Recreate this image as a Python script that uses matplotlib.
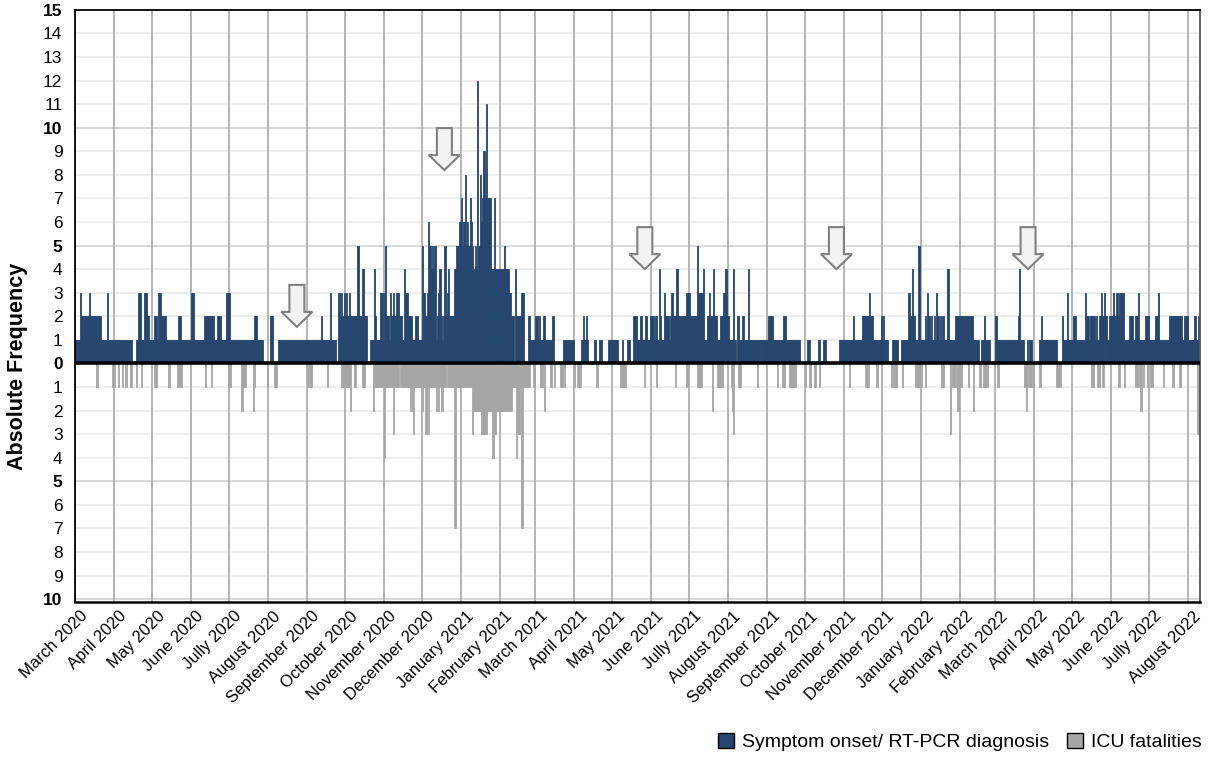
import pandas as pd
import matplotlib
matplotlib.use("Agg")
import matplotlib.pyplot as plt
import matplotlib.dates as mdates
import matplotlib.transforms as mtransforms
from matplotlib.patches import Patch, Polygon

plt.rcParams['font.family'] = ['Liberation Sans', 'DejaVu Sans']

# month labels as printed on the original axis (spelling kept)
month_labels = ["March 2020", "April 2020", "May 2020", "June 2020", "Jully 2020",
                "August 2020", "September 2020", "October 2020", "November 2020",
                "December 2020", "January 2021", "February 2021", "March 2021",
                "April 2021", "May 2021", "June 2021", "Jully 2021", "August 2021",
                "September 2021", "October 2021", "November 2021", "December 2021",
                "January 2022", "February 2022", "March 2022", "April 2022",
                "May 2022", "June 2022", "Jully 2022", "August 2022"]
first_day = "2020-03-01"

# daily symptom onset / RT-PCR diagnosis counts, one row per month
onset_2020 = [
    [1,1,1,1,3,2,2,2,2,2,2,3,2,2,2,2,2,2,2,2,2,1,1,1,1,3,1,1,1,1,1],
    [1,1,1,1,1,1,1,1,1,1,1,1,1,1,0,0,0,1,1,3,3,1,1,1,3,3,2,2,1,1],
    [1,1,2,2,1,3,3,2,2,2,2,1,1,1,1,1,1,1,1,1,1,2,2,1,1,1,1,1,1,1,1],
    [3,3,1,1,1,1,1,1,1,1,2,2,2,2,2,2,2,2,1,1,1,2,2,2,1,1,1,1,3,3],
    [3,1,1,1,1,1,1,1,1,1,1,1,1,1,1,1,1,1,1,1,2,2,1,1,1,1,1,0,0,0,0],
    [0,0,2,2,0,0,0,0,1,1,1,1,1,1,1,1,1,1,1,1,1,1,1,1,1,1,1,1,1,1,1],
    [1,1,1,1,1,1,1,1,1,1,1,2,1,1,1,1,1,1,3,1,1,1,1,0,0,3,2,3,2,3],
    [2,3,2,3,2,2,2,2,2,2,5,2,2,2,4,2,2,2,0,0,1,1,1,4,2,1,1,1,3,3,1],
    [3,5,2,2,1,3,2,3,2,2,3,3,2,2,1,1,4,3,3,2,2,2,1,1,1,2,2,1,1,1],
    [5,3,3,2,3,6,5,4,5,4,5,1,2,3,4,2,1,2,5,2,3,4,2,2,2,2,4,5,5,5,6],
]
onset_2021 = [
    [7,5,6,8,5,6,5,7,6,5,4,5,4,12,5,8,6,7,9,7,11,7,7,7,4,4,7,4,4,4,4],
    [4,4,4,5,4,4,4,3,3,2,2,0,4,2,2,2,2,3,3,0,0,0,2,2,1,1,1,1],
    [2,2,1,2,1,1,2,2,1,1,1,1,1,2,2,0,0,0,0,0,0,0,1,1,1,1,1,1,1,1,1],
    [0,0,0,0,0,1,1,2,1,2,1,0,0,0,0,0,1,0,0,0,1,1,0,0,0,0,0,1,1,1],
    [1,1,1,1,1,0,0,0,1,0,0,0,1,1,0,0,0,2,2,2,1,1,2,2,1,1,2,2,1,1,2],
    [2,2,1,2,2,1,4,2,1,1,3,2,2,2,1,2,3,2,2,2,4,2,2,2,2,2,2,2,3,3],
    [3,2,2,2,2,2,5,3,3,3,3,4,1,1,2,2,3,2,2,4,2,2,1,1,1,2,2,3,3,4,2],
    [2,1,1,1,4,1,0,2,2,1,1,2,2,1,1,1,4,1,1,1,1,1,1,1,1,1,1,1,1,1,1],
    [1,2,2,2,2,1,1,1,1,1,1,1,1,2,2,1,1,1,1,1,1,1,1,1,1,1,0,0,0,0],
    [0,0,1,1,0,0,0,0,0,0,1,1,0,0,1,1,1,0,0,0,0,0,0,0,0,0,0,1,1,1,1],
    [1,1,1,1,1,1,1,2,1,1,1,1,1,1,2,2,2,2,2,2,3,2,2,1,1,1,1,1,1,2],
    [1,2,1,1,1,0,0,0,1,1,1,1,1,0,0,1,1,1,1,1,1,3,2,2,4,2,1,1,1,5,1],
]
onset_2022 = [
    [1,1,1,2,1,3,2,1,2,1,2,1,3,2,1,2,1,2,1,1,1,4,1,1,1,1,1,2,2,2,2],
    [2,2,2,2,2,2,2,2,2,2,1,1,1,1,1,0,0,1,1,2,1,1,1,1,0,0,0,0],
    [2,1,1,1,1,1,1,1,1,1,1,1,1,1,1,1,1,1,2,4,1,1,1,0,0,1,0,1,1,0,0],
    [0,0,0,0,1,2,1,1,1,1,1,1,1,1,1,1,1,1,0,0,0,0,2,1,1,1,3,1,1,1],
    [1,2,2,1,1,1,1,1,1,1,3,2,2,1,2,2,2,2,1,2,1,2,2,3,2,3,2,2,1,2,2],
    [2,3,2,2,3,2,3,3,3,3,1,1,1,1,2,2,2,1,1,2,2,3,1,1,1,1,1,2,2,2],
    [1,1,1,1,1,2,2,3,1,1,1,1,1,1,1,1,2,2,2,2,2,2,2,2,2,2,1,1,2,2,2],
    [1,1,1,1,1,2,1,1,2],
]

# daily ICU fatalities, one row per month
icu_2020 = [
    [0,0,0,0,0,0,0,0,0,0,0,0,0,0,0,0,0,1,0,0,0,0,0,0,0,0,0,0,0,1,1],
    [1,0,0,1,0,0,1,0,0,1,0,0,0,1,0,0,0,1,0,0,0,1,0,0,0,0,0,0,0,0],
    [0,0,1,1,0,0,0,0,0,0,0,0,0,1,0,0,0,0,0,0,1,1,1,1,0,0,0,0,0,0,0],
    [0,0,0,0,0,0,0,0,0,0,0,1,0,0,0,0,1,0,0,0,0,0,0,0,0,0,0,0,0,1],
    [1,1,0,0,0,0,0,0,0,0,2,1,1,1,0,0,0,0,0,2,1,0,0,0,0,0,0,0,0,0,1],
    [0,0,0,0,0,1,1,0,0,0,0,0,0,0,0,0,0,0,0,0,0,0,0,0,0,0,0,0,0,0,0],
    [1,0,1,1,0,0,0,0,0,0,0,0,0,0,0,0,1,0,0,0,0,0,0,0,0,0,0,1,1,1],
    [1,1,1,1,2,0,0,1,1,0,0,0,0,0,1,1,0,0,0,0,0,0,2,1,1,1,1,1,1,1,1],
    [4,1,1,1,1,1,1,3,1,1,1,1,0,1,1,1,1,1,1,1,1,2,1,3,1,1,1,1,1,1],
    [2,1,1,3,1,3,1,1,1,1,1,2,1,2,1,2,2,1,1,0,1,1,1,1,1,1,7,1,1,1,1],
]
icu_2021 = [
    [1,1,1,1,1,1,1,1,1,3,2,2,2,2,2,2,3,3,3,3,3,2,2,2,2,4,3,3,2,2,2],
    [2,2,2,2,2,2,2,2,2,2,1,1,1,4,3,3,1,7,1,1,1,1,1,1,0,0,1,1],
    [0,0,0,0,1,1,0,2,0,0,0,0,1,0,0,1,0,0,0,0,1,1,0,1,0,0,0,0,0,0,0],
    [1,0,1,1,1,0,0,0,0,0,0,0,0,0,0,0,0,1,1,0,0,0,0,0,0,0,0,0,0,0],
    [0,0,0,0,0,0,1,1,1,1,1,0,0,0,0,0,0,0,0,0,0,0,0,0,0,1,0,0,0,0,0],
    [0,0,0,0,1,0,0,0,0,0,0,0,0,0,0,0,0,0,0,1,0,0,0,0,0,0,0,0,1,0],
    [0,0,0,0,0,0,1,1,1,1,0,0,0,0,0,0,0,0,2,0,0,0,1,1,1,1,1,0,0,0,0],
    [0,0,1,2,3,0,0,0,1,1,0,0,0,0,0,0,0,0,0,0,0,0,0,1,0,0,0,0,0,0,0],
    [0,0,0,0,0,0,0,0,1,0,0,0,1,1,0,0,0,1,1,1,1,1,1,0,0,0,0,0,0,0],
    [1,0,0,1,1,0,0,1,1,0,0,1,0,0,0,0,0,0,0,0,0,0,0,0,0,0,0,0,0,0,0],
    [0,0,0,0,1,0,0,0,0,0,0,0,0,0,0,0,0,1,1,1,0,0,0,0,0,1,1,0,0,0],
    [0,0,0,0,0,0,0,1,1,0,1,1,0,0,0,0,1,0,0,0,0,0,0,0,0,0,1,1,1,1,1],
]
icu_2022 = [
    [1,0,0,1,0,0,0,0,0,0,0,0,0,0,0,0,1,1,0,0,0,0,0,3,0,1,1,1,0,2,0],
    [1,1,0,0,0,0,1,0,0,0,2,0,0,0,0,1,1,0,1,1,1,1,0,0,0,0,0,0],
    [0,1,1,0,0,0,0,0,0,0,0,0,0,0,0,0,0,0,0,0,0,0,0,1,2,1,0,1,1,0,1],
    [0,0,0,0,1,0,0,0,0,0,0,0,0,0,0,0,0,1,1,1,1,0,0,0,0,0,0,0,0,0],
    [0,0,0,0,0,0,0,0,0,0,0,0,0,0,0,1,1,0,0,0,1,1,0,0,1,0,0,0,0,0,0],
    [0,0,0,0,0,1,1,0,0,0,1,0,0,0,0,0,0,0,0,1,1,0,1,2,0,1,0,0,1,0],
    [0,1,1,0,0,0,0,0,0,0,0,1,0,0,0,0,0,0,1,1,0,0,0,0,1,0,0,0,0,0,0],
    [0,0,0,0,0,0,0,3,3],
]

# arrows marking the start of each wave (date, count at arrow tip)
arrow_dates = ["2020-08-24", "2020-12-19", "2021-05-27", "2021-10-26", "2022-03-27"]
arrow_tips = [1.55, 8.2, 4.0, 4.0, 4.0]

onset_months = onset_2020 + onset_2021 + onset_2022
icu_months = icu_2020 + icu_2021 + icu_2022
month_starts = pd.date_range(first_day, periods=len(month_labels), freq="MS")

dates, onset, icu = [], [], []
for start, on, dead in zip(month_starts, onset_months, icu_months):
    if len(on) != len(dead):
        print("length mismatch", start.date(), len(on), len(dead))
    dates += list(pd.date_range(start, periods=len(on), freq="D"))
    onset += on
    icu += dead

blue = "#27466f"
grey = "#a6a6a6"

fig = plt.figure(figsize=(12.08, 7.58), dpi=100)
ax = fig.add_axes([75 / 1208, 1 - 601.5 / 758, 1124.5 / 1208, 591.7 / 758])

# same-colour edge so single-day spikes stay visible at ~1 px per day
ax.bar(dates, [-v for v in icu], width=1.0, align="edge", color=grey,
       edgecolor=grey, linewidth=0.6, zorder=2)
ax.bar(dates, onset, width=1.0, align="edge", color=blue, edgecolor=blue,
       linewidth=0.6, zorder=2)
ax.axhline(0, color="black", lw=2.6, zorder=4)

ax.set_xlim(pd.Timestamp(first_day), pd.Timestamp("2022-08-10"))
ax.set_ylim(-10.1, 15)

# horizontal grid
yt = list(range(-10, 16))
ax.set_yticks(yt)
ax.set_yticklabels([str(abs(v)) for v in yt])
for v in yt:
    if v == 0:
        continue
    c = "#d6d6d6" if v % 5 == 0 else "#ececec"
    ax.axhline(v, color=c, lw=1.3, zorder=0)
for lab, v in zip(ax.get_yticklabels(), yt):
    if v % 5 == 0:
        lab.set_fontweight("bold")
ax.tick_params(axis="y", length=0, pad=9, labelsize=12.5)

# month grid
ax.set_xticks(month_starts)
ax.set_xticklabels(month_labels, rotation=45, ha="right", va="top",
                   rotation_mode="anchor", fontsize=12)
ax.tick_params(axis="x", length=0, pad=5)
shift = mtransforms.ScaledTranslation(5 / 100, 0, fig.dpi_scale_trans)
for lab in ax.get_xticklabels():
    lab.set_transform(lab.get_transform() + shift)
ax.xaxis.grid(True, color="#a8a8a8", lw=1.2, zorder=1)
ax.set_axisbelow(True)

for side in ["left", "top"]:
    ax.spines[side].set_linewidth(1.3)
    ax.spines[side].set_color("black")
ax.spines["right"].set_linewidth(1.3)
ax.spines["right"].set_color("#555555")
ax.spines["bottom"].set_linewidth(1.8)

# block arrows, drawn in pixels around the tip position
shape = [(0, 0), (15.5, 15), (7.5, 15), (7.5, 42), (-7.5, 42), (-7.5, 15), (-15.5, 15)]
shape = [(px / 100, py / 100) for px, py in shape]
for d, tip in zip(arrow_dates, arrow_tips):
    x = mdates.date2num(pd.Timestamp(d))
    tr = fig.dpi_scale_trans + mtransforms.ScaledTranslation(x, tip, ax.transData)
    ax.add_patch(Polygon(shape, closed=True, transform=tr, facecolor="#f2f2f2",
                         edgecolor="#808080", lw=1.5, zorder=5, clip_on=False))

fig.text(18 / 1208, 1 - 366 / 758, "Absolute Frequency", rotation=90,
         ha="center", va="center", fontsize=15.5, fontweight="bold")

handles = [Patch(facecolor=blue, edgecolor="black", lw=1.0),
           Patch(facecolor=grey, edgecolor="black", lw=1.0)]
fig.legend(handles, ["Symptom onset/ RT-PCR diagnosis", "ICU fatalities"],
           loc="center right", bbox_to_anchor=(1202 / 1208, 1 - 742 / 758),
           ncol=2, frameon=False, fontsize=14, handlelength=0.8,
           handleheight=0.8, handletextpad=0.45, columnspacing=0.9,
           borderaxespad=0, borderpad=0)

fig.savefig("out.png", dpi=100)
